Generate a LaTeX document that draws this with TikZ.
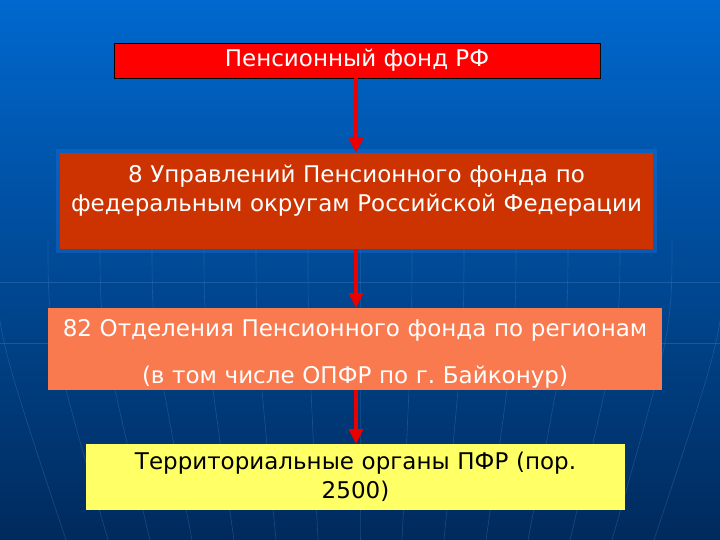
\documentclass[tikz,border=0pt]{standalone}
\usepackage{fontspec}
\setmainfont{DejaVu Sans}
\usetikzlibrary{arrows.meta,calc}
\frenchspacing
\definecolor{bgtop}{RGB}{0,104,206}
\definecolor{bgbot}{RGB}{0,42,92}
\definecolor{boxa}{RGB}{255,0,0}
\definecolor{boxb}{RGB}{204,51,0}
\definecolor{boxc}{RGB}{250,122,80}
\definecolor{boxd}{RGB}{255,255,102}
\definecolor{arr}{RGB}{235,0,0}
\definecolor{gridc}{RGB}{90,140,210}
\definecolor{glow}{RGB}{30,110,215}
\tikzset{
  box/.style={draw=none, inner sep=0pt, outer sep=0pt, align=center, text=white, font=\fontsize{23}{29}\selectfont},
  conn/.style={arr, line width=4pt, -{Triangle[length=15pt,width=14pt]}},
}
\begin{document}
\begin{tikzpicture}[x=1pt,y=-1pt]
\useasboundingbox (0,0) rectangle (720,540);
\shade[top color=bgtop, bottom color=bgbot] (0,0) rectangle (720,540);
% faint globe grid
\begin{scope}[gridc, opacity=0.3, line width=0.6pt]
\foreach \k in {-7,...,7} {
  \draw ({360+\k*52},240) .. controls ({360+\k*52},330) .. ({360+\k*42},540);
}
\draw (0,282) -- (720,282);
\draw (0,343) -- (720,343);
\end{scope}
\coordinate (ax) at (356,0);
% boxes
\fill[glow, opacity=0.4] (56,149) rectangle (657,253);
\node[box, fill=boxa, draw=black, line width=0.8pt, minimum width=486pt, minimum height=35pt, anchor=north west] (a) at (114,43) {Пенсионный фонд РФ};
\node[box, fill=boxb, minimum width=593pt, minimum height=96pt, anchor=north west] (b) at (60,153) {};
\node[box, text width=593pt] (bt) at (356.5,191) {8 Управлений Пенсионного фонда по\\федеральным округам Российской Федерации};
\node[box, fill=boxc, minimum width=614pt, minimum height=82pt, anchor=north west] (c) at (48,308) {};
\node[box, text width=614pt, font=\fontsize{23}{47}\selectfont] (ct) at (355,354) {82 Отделения Пенсионного фонда по регионам\\(в том числе ОПФР по г. Байконур)};
\node[box, fill=boxd, text=black, minimum width=539pt, minimum height=66pt, anchor=north west] (d) at (86,444) {};
\node[box, text=black, text width=539pt] (dt) at (355.5,477) {Территориальные органы ПФР (пор.\\2500)};
% connectors
\draw[conn] (a.south -| ax) -- (b.north -| ax);
\draw[conn] (b.south -| ax) -- (c.north -| ax);
\draw[conn] (c.south -| ax) -- (d.north -| ax);
\end{tikzpicture}
\end{document}
